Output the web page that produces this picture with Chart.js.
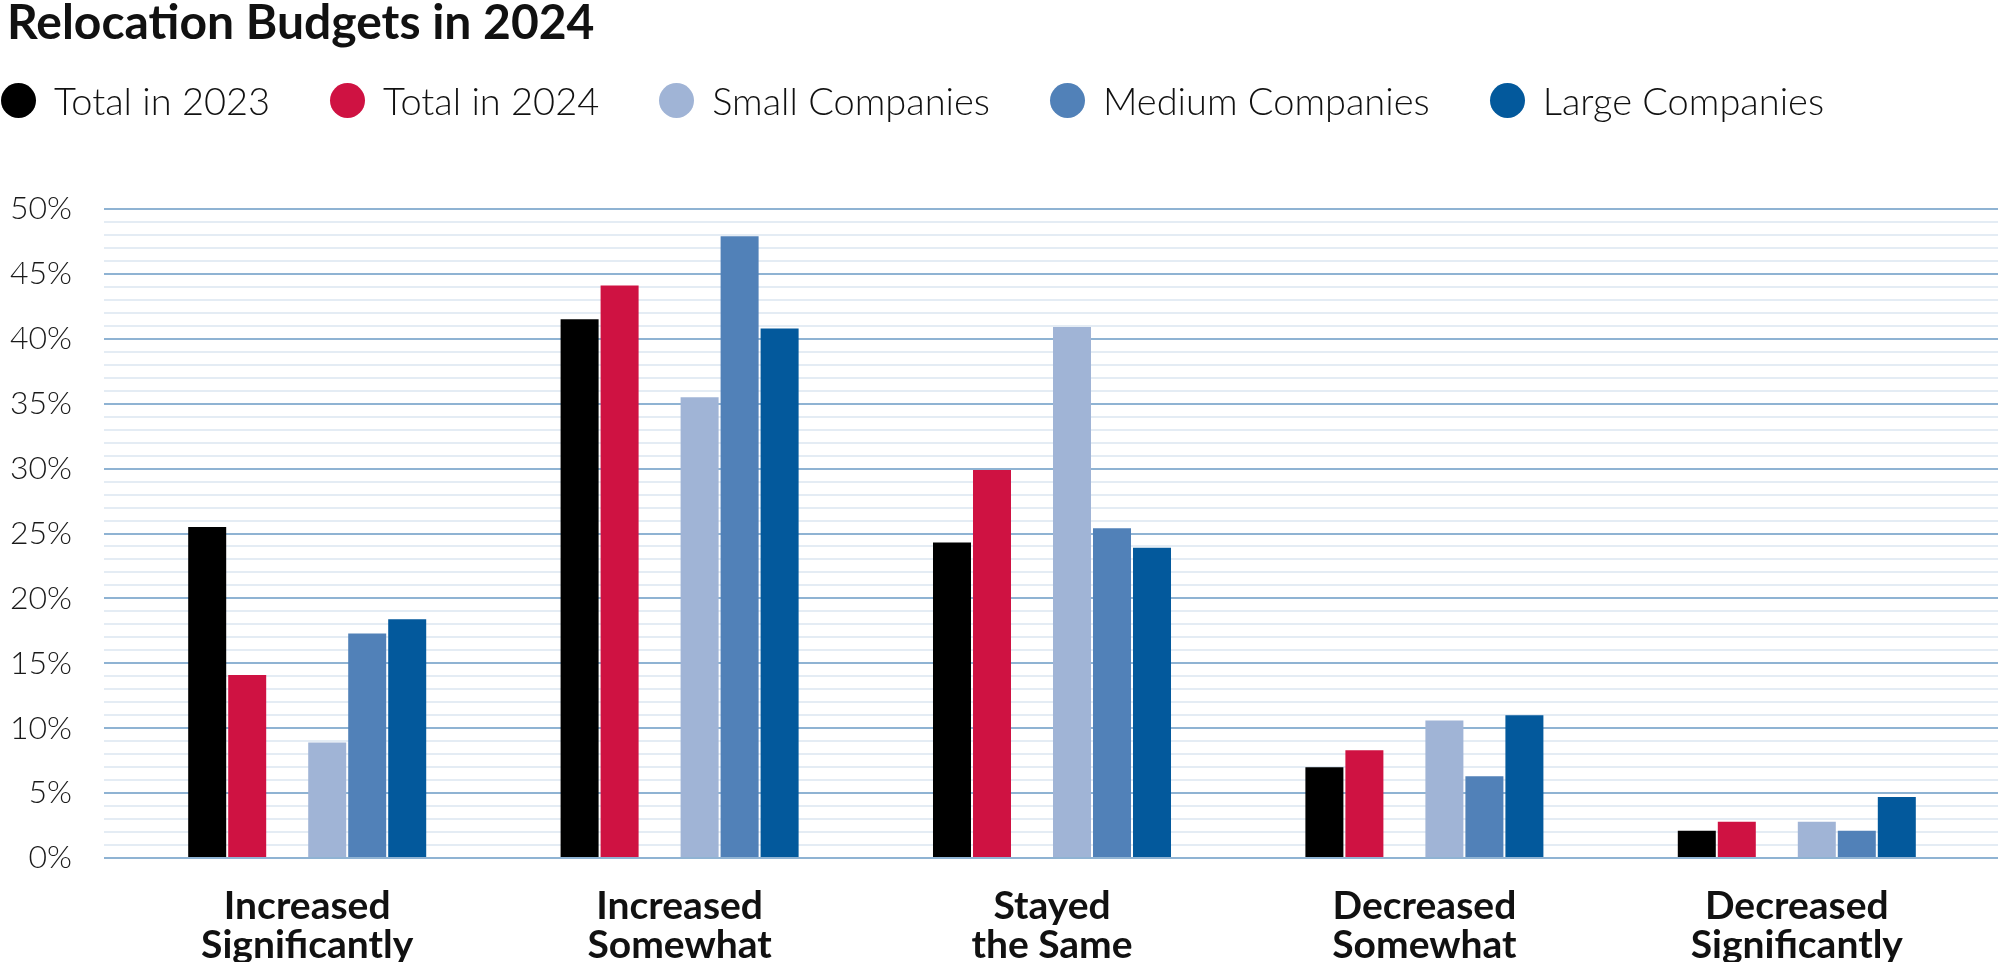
<!DOCTYPE html>
<html>
<head>
<meta charset="utf-8">
<title>Relocation Budgets in 2024</title>
<script src="https://cdn.jsdelivr.net/npm/chart.js@4.4.1/dist/chart.umd.min.js"></script>
<style>
  html, body { margin: 0; padding: 0; background: #fff; }
  #wrap { position: relative; width: 2000px; height: 962px; font-family: Lato, "Open Sans", sans-serif; color: #111; }
  #title { position: absolute; left: 7px; top: -3px; font-size: 48px; line-height: 48px; font-weight: 700; white-space: nowrap; }
  #legend { position: absolute; left: 1px; top: 82px; height: 36px; display: flex; align-items: center; font-size: 38px; font-weight: 300; white-space: nowrap; }
  .item { display: flex; align-items: center; margin-right: 60px; }
  .dot { width: 35px; height: 35px; border-radius: 50%; margin-right: 18px; }
  #chart-box { position: absolute; left: 0; top: 0; width: 2000px; height: 962px; }
</style>
</head>
<body>
<div id="wrap">
  <div id="chart-box"><canvas id="budget-chart"></canvas></div>
  <div id="title">Relocation Budgets in 2024</div>
  <div id="legend"></div>
</div>
<script>
// ── Data ──────────────────────────────────────────────────────────────────────

const CATEGORIES = [
  ["Increased", "Significantly"],
  ["Increased", "Somewhat"],
  ["Stayed", "the Same"],
  ["Decreased", "Somewhat"],
  ["Decreased", "Significantly"],
];
const SERIES_NAMES = ["Total in 2023", "Total in 2024", "Small Companies", "Medium Companies", "Large Companies"];
const TOTAL_2023 = [25.5, 41.5, 24.3, 7.0, 2.1];
const TOTAL_2024 = [14.1, 44.1, 29.9, 8.3, 2.8];
const SMALL      = [8.9, 35.5, 40.9, 10.6, 2.8];
const MEDIUM     = [17.3, 47.9, 25.4, 6.3, 2.1];
const LARGE      = [18.4, 40.8, 23.9, 11.0, 4.7];

const COLORS = ["#000000", "#cf1242", "#a0b4d6", "#5181b8", "#03599c"];
const GRID_MAJOR = "#8fb3d3";
const GRID_MINOR = "#e4ecf4";
const FONT = "Lato, 'Open Sans', sans-serif";

// ── Legend (HTML) ─────────────────────────────────────────────────────────────

const legendEl = document.getElementById("legend");
SERIES_NAMES.forEach((name, i) => {
  const item = document.createElement("div");
  item.className = "item";
  const dot = document.createElement("span");
  dot.className = "dot";
  dot.style.background = COLORS[i];
  const txt = document.createElement("span");
  txt.textContent = name;
  item.appendChild(dot);
  item.appendChild(txt);
  legendEl.appendChild(item);
});

// ── Chart ─────────────────────────────────────────────────────────────────────

const values = [TOTAL_2023, TOTAL_2024, SMALL, MEDIUM, LARGE];
const datasets = values.map((data, i) => ({
  label: SERIES_NAMES[i],
  data,
  backgroundColor: COLORS[i],
  borderWidth: 0,
}));
// empty slot between the totals and the company sizes
datasets.splice(2, 0, { label: "", data: CATEGORIES.map(() => null), backgroundColor: "rgba(0,0,0,0)" });

const gridColor = ctx => (ctx.tick && ctx.tick.value % 5 === 0) ? GRID_MAJOR : GRID_MINOR;

const ctx = document.getElementById("budget-chart").getContext("2d");
new Chart(ctx, {
  type: "bar",
  data: { labels: CATEGORIES, datasets },
  options: {
    responsive: true,
    maintainAspectRatio: false,
    animation: false,
    devicePixelRatio: 1,
    layout: { padding: { top: 209, left: 2, right: 2, bottom: 0 } },
    datasets: { bar: { categoryPercentage: 0.6445, barPercentage: 0.95 } },
    plugins: {
      legend: { display: false },
      tooltip: { enabled: false },
      title: { display: false },
    },
    scales: {
      x: {
        afterFit: s => { s.height = 104; },
        border: { display: false },
        grid: { display: false, drawTicks: false },
        ticks: {
          padding: 29,
          color: "#111",
          font: { family: FONT, size: 39, weight: "bold", lineHeight: 1.0 },
          maxRotation: 0,
          autoSkip: false,
        },
      },
      y: {
        min: 0, max: 50,
        afterFit: s => { s.width = 119; },
        border: { display: false },
        grid: { color: gridColor, lineWidth: 2, drawTicks: true, tickLength: 17 },
        ticks: {
          stepSize: 1,
          autoSkip: false,
          padding: 32,
          color: "#1a1a1a",
          font: { family: FONT, size: 32, weight: 300 },
          callback: v => v % 5 === 0 ? v + "%" : "",
        },
      },
      y2: {
        position: "right",
        min: 0, max: 50,
        afterFit: s => { s.width = 15; },
        border: { display: false },
        grid: { color: gridColor, lineWidth: 2, drawOnChartArea: false, drawTicks: true, tickLength: 15 },
        ticks: { stepSize: 1, autoSkip: false, display: false },
      },
    },
  },
});
</script>
</body>
</html>
